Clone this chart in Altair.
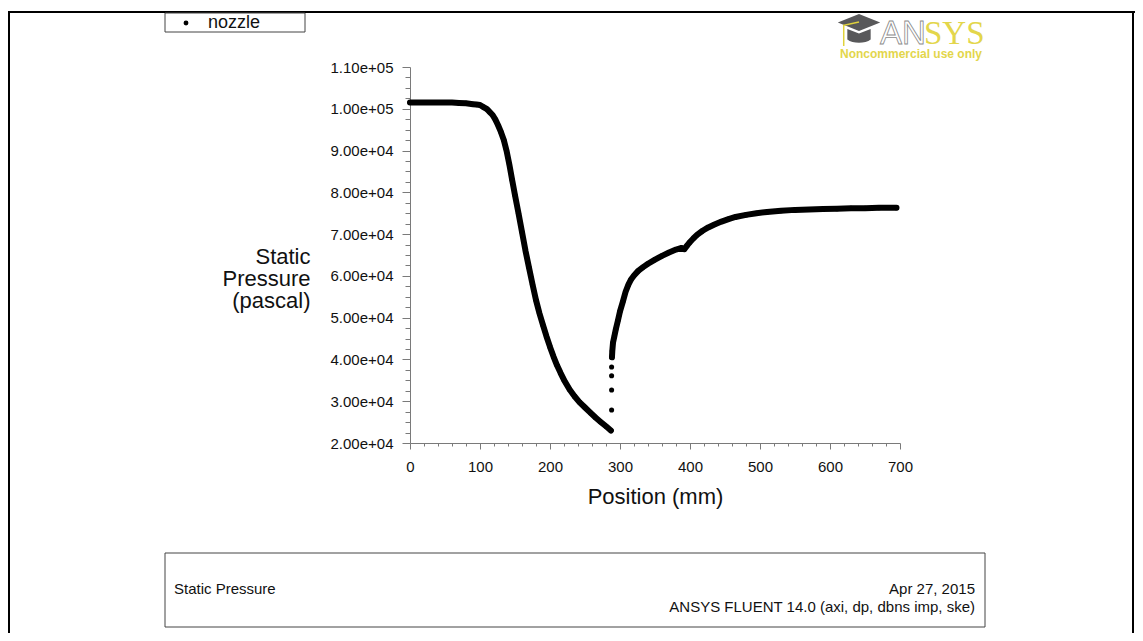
import altair as alt
import pandas as pd

# ---------------- data ----------------
# upstream branch (inlet -> throat -> minimum before the shock)
pos_up = [0, 10, 20, 30, 40, 50, 60, 70, 80, 90, 95, 100, 105, 110, 114, 118, 122, 126, 130, 134,
          138, 142, 146, 150, 155, 160, 165, 170, 175, 180, 185, 190, 195, 200, 205, 210, 215, 220,
          228, 235, 242, 250, 258, 265, 272, 280, 287]
p_up = [101500, 101500, 101500, 101500, 101500, 101500, 101500, 101400, 101300, 101100,
        101000, 100900, 100400, 99900, 99200, 98500, 97400, 96000, 94400, 92500,
        89900, 86600, 82900, 79300, 75000, 70500, 66000, 62000, 58000, 54200,
        51000, 48200, 45500, 43000, 40700, 38600, 36800, 35100, 32800, 31200,
        29800, 28500, 27200, 26100, 25100, 24000, 23000]

# isolated points across the shock
pos_shock = [288, 288, 288, 288]
p_shock = [27900, 32700, 36100, 38200]

# downstream branch
pos_dn = [288.5, 289, 290, 292, 294, 297, 300, 304, 308, 312, 316, 320, 326, 333, 340, 350, 360,
          370, 380, 388, 392, 396, 400, 405, 410, 418, 426, 435, 445, 455, 465, 480, 495, 510,
          530, 550, 570, 590, 610, 630, 650, 670, 695]
p_dn = [40500, 42000, 44000, 45600, 47200, 49300, 51500, 53800, 56200, 57900, 59200, 60100,
        61200, 62100, 62900, 63900, 64800, 65600, 66300, 66700, 66400, 67300, 68100, 69000,
        69800, 70800, 71600, 72300, 73000, 73600, 74100, 74600, 75000, 75300, 75600, 75800,
        75900, 76000, 76100, 76200, 76200, 76300, 76300]

series_name = "nozzle"
x_ticks = list(range(0, 701, 20))
y_ticks = list(range(20000, 110001, 2500))

FONT = "Liberation Sans"

pts = pd.DataFrame({
    "pos": pos_up + pos_shock + pos_dn,
    "p": p_up + p_shock + p_dn,
    "branch": ["up"] * len(pos_up) + ["shock"] * len(pos_shock) + ["down"] * len(pos_dn),
    "series": series_name,
})
line_df = pts[pts["branch"] != "shock"]

x_enc = alt.X(
    "pos:Q",
    scale=alt.Scale(domain=[0, 700], nice=False, zero=False),
    axis=alt.Axis(
        values=x_ticks,
        labelExpr="datum.value % 100 === 0 ? datum.label : ''",
        tickSize={"condition": {"test": "datum.value % 100 === 0", "value": 6}, "value": 3},
        labelFontSize=15, labelFont=FONT, labelColor="#111", labelPadding=10,
        labelOverlap=False, labelFlush=False,
        title="Position (mm)", titleFont=FONT, titleFontSize=22, titleFontWeight="normal",
        titleColor="#111", titleBaseline="alphabetic", titleY=60,
        domainColor="#7a7a7a", tickColor="#7a7a7a", grid=False,
    ),
)
y_enc = alt.Y(
    "p:Q",
    scale=alt.Scale(domain=[20000, 110000], nice=False, zero=False),
    axis=alt.Axis(
        values=y_ticks,
        labelExpr="datum.value % 10000 === 0 ? (datum.value >= 100000 ? format(datum.value/100000, '.2f') + 'e+05' : format(datum.value/10000, '.2f') + 'e+04') : ''",
        tickSize={"condition": {"test": "datum.value % 10000 === 0", "value": 8}, "value": 5},
        labelFontSize=15, labelFont=FONT, labelColor="#111", labelPadding=9,
        labelOverlap=False, labelFlush=False,
        title=["Static", "Pressure", "(pascal)"], titleFont=FONT, titleFontSize=22,
        titleFontWeight="normal", titleColor="#111", titleAngle=0, titleAlign="right",
        titleBaseline="alphabetic", titleX=-100, titleY=196, titleLineHeight=22,
        domainColor="#7a7a7a", tickColor="#7a7a7a", grid=False,
    ),
)

line = alt.Chart(line_df).mark_line(
    color="black", strokeWidth=6, strokeCap="round", strokeJoin="round"
).encode(x=x_enc, y=y_enc, detail="branch:N")

points = alt.Chart(pts).mark_circle(size=26, opacity=1).encode(
    x=x_enc, y=y_enc,
    color=alt.Color(
        "series:N",
        scale=alt.Scale(range=["black"]),
        legend=alt.Legend(
            title=None, orient="none", legendX=-233, legendY=-53, symbolType="circle",
            symbolSize=24, labelFont=FONT, labelFontSize=18, labelColor="#111",
            labelOffset=13, padding=0,
        ),
    ),
)

one = pd.DataFrame({"k": [0]})


def rule(x1, y1, x2, y2, color="black", w=1.0):
    return alt.Chart(one).mark_rule(color=color, strokeWidth=w).encode(
        x=alt.value(x1), x2=alt.value(x2), y=alt.value(y1), y2=alt.value(y2))


def box(x1, y1, x2, y2, stroke="#333", w=1.0):
    return alt.Chart(one).mark_rect(fill="white", stroke=stroke, strokeWidth=w).encode(
        x=alt.value(x1), x2=alt.value(x2), y=alt.value(y1), y2=alt.value(y2))


def txt(s, x, y, size, align="left", color="#111", font=FONT, weight="normal", **kw):
    return alt.Chart(pd.DataFrame({"t": [s]})).mark_text(
        align=align, baseline="alphabetic", fontSize=size, font=font, color=color,
        fontWeight=weight, **kw
    ).encode(text="t:N", x=alt.value(x), y=alt.value(y))


# outer frame
frame = [
    rule(-402, -55, 725, -55, w=2),
    rule(-401, -55, -401, 570, w=2),
    rule(723, -55, 723, 570, w=2),
]

legend_box = box(-245, -54, -105, -35, stroke="#444")

footer = [
    box(-245, 486, 575, 560, stroke="#444"),
    txt("Static Pressure", -236, 527, 15),
    txt("Apr 27, 2015", 565, 527, 15, align="right"),
    txt("ANSYS FLUENT 14.0 (axi, dp, dbns imp, ske)", 565, 545, 15, align="right"),
]

cap_path = ("M-1,-0.35 L0,-0.75 L1,-0.35 L0,0.05 Z "
            "M-0.55,-0.05 L-0.55,0.45 C-0.3,0.65 0.3,0.65 0.55,0.45 L0.55,-0.05 L0,0.17 Z")
tassel_path = "M0,-0.38 L-0.72,-0.22 L-0.72,0.75"
logo = [
    alt.Chart(one).mark_point(shape=cap_path, size=1800, filled=True, color="#58585a",
                              opacity=1).encode(x=alt.value(449), y=alt.value(-37)),
    alt.Chart(one).mark_point(shape=tassel_path, size=1800, filled=False, color="#e0d23c",
                              strokeWidth=1.5, opacity=1).encode(x=alt.value(449), y=alt.value(-37)),
    txt("AN", 470, -23, 33, color="white", stroke="#8a8a8a", strokeWidth=0.8),
    txt("SYS", 514, -23, 33, color="#e3d64b", font="Liberation Serif"),
    txt("Noncommercial use only", 501, -9, 12, align="center", color="#e3d64b", weight="bold"),
]

chart = alt.layer(
    *frame, legend_box, *footer, *logo, line, points
).properties(
    width=490, height=376,
    autosize=alt.AutoSizeParams(type="none"),
    padding={"left": 402, "top": 59, "right": 235, "bottom": 190},
    background="white",
).configure(font=FONT).configure_view(strokeWidth=0, strokeOpacity=0)

chart.save("out.html", embed_options={"renderer": "svg", "actions": False})
